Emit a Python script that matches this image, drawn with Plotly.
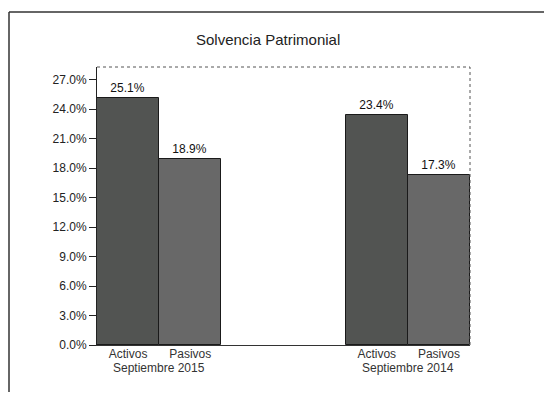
import plotly.graph_objects as go

# ---- data ----
periods = ["Septiembre 2015", "Septiembre 2014"]
items = ["Activos", "Pasivos"]
activos = [25.1, 23.4]
pasivos = [18.9, 17.3]
y_ticks = [0, 3, 6, 9, 12, 15, 18, 21, 24, 27]
y_tick_labels = ["0.0%", "3.0%", "6.0%", "9.0%", "12.0%", "15.0%",
                 "18.0%", "21.0%", "24.0%", "27.0%"]
title = "Solvencia Patrimonial"

# ---- layout helpers ----
OFF = 8  # page body margin
W, H = 552 - 2 * OFF, 400 - 2 * OFF
L, T = 97 - OFF, 67 - OFF
R = W - (470 - OFF)
B = H - (345 - OFF)
pw, ph = W - L - R, H - T - B

group_step = 4
series = {"Activos": activos, "Pasivos": pasivos}
colors = {"Activos": "#525452", "Pasivos": "#686868"}

fig = go.Figure()
for j, name in enumerate(items):
    xs = [g * group_step + j for g in range(len(periods))]
    fig.add_trace(go.Bar(
        x=xs, y=series[name], width=1.0,
        marker=dict(color=colors[name], line=dict(color="#1a1a1a", width=1)),
        texttemplate="%{y:.1f}%", textposition="outside",
        textfont=dict(size=12, color="#111"), cliponaxis=False,
        showlegend=False,
    ))

tickvals, ticktext = [], []
for g in range(len(periods)):
    for j, name in enumerate(items):
        tickvals.append(g * group_step + j)
        ticktext.append(name)

annotations = []
for g, p in enumerate(periods):
    annotations.append(dict(
        x=g * group_step + (len(items) - 1) / 2, y=0, xref="x", yref="y",
        text=p, showarrow=False, yanchor="top", yshift=-14,
        font=dict(size=12, color="#333"),
    ))
annotations.append(dict(
    x=(268 - OFF - L) / pw, y=(H - B - (40 - OFF)) / ph,
    xref="paper", yref="paper", text=title, showarrow=False,
    xanchor="center", yanchor="middle", font=dict(size=15, color="#222"),
))

fig.update_layout(
    width=W, height=H,
    margin=dict(l=L, r=R, t=T, b=B),
    paper_bgcolor="white", plot_bgcolor="white",
    font=dict(family="Liberation Sans, Arial, sans-serif", size=12, color="#222"),
    bargap=0, annotations=annotations,
)

fig.update_xaxes(
    range=[-0.5, (len(periods) - 1) * group_step + len(items) - 0.5],
    tickvals=tickvals, ticktext=ticktext, ticks="",
    showline=True, linecolor="#333", linewidth=1, showgrid=False,
    zeroline=False, tickfont=dict(size=12, color="#333"),
    ticklabelstandoff=-2,
)
fig.update_yaxes(
    range=[0, 28.3], tickvals=y_ticks, ticktext=y_tick_labels,
    ticks="outside", ticklen=7, tickcolor="#222",
    showline=True, linecolor="#222", linewidth=1, showgrid=False,
    zeroline=False, tickfont=dict(size=12, color="#222"),
)

# dotted top/right frame
fig.add_shape(type="line", xref="paper", yref="paper", x0=0, x1=1, y0=1, y1=1,
              line=dict(color="#555", width=1, dash="dot"))
fig.add_shape(type="line", xref="paper", yref="paper", x0=1, x1=1, y0=0, y1=1,
              line=dict(color="#555", width=1, dash="dot"))
# outer border (left and top edges visible only)
bx0 = (1 - L) / pw
by_top = (H - B - (12 - OFF)) / ph
by_bot = -B / ph
bx1 = (W - L) / pw
fig.add_shape(type="line", xref="paper", yref="paper", x0=bx0, x1=bx0,
              y0=by_bot, y1=by_top, line=dict(color="#333", width=1.5))
fig.add_shape(type="line", xref="paper", yref="paper", x0=bx0, x1=bx1,
              y0=by_top, y1=by_top, line=dict(color="#333", width=1.5))

fig.write_html("out.html")
